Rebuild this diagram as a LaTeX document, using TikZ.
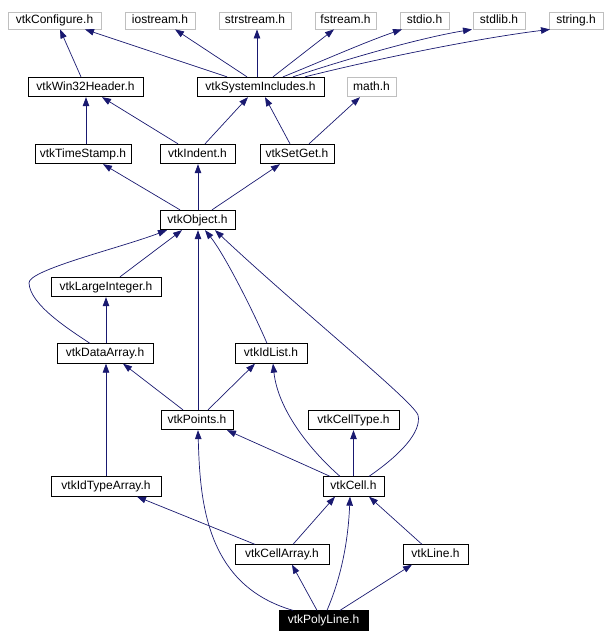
\documentclass[tikz,border=0pt]{standalone}
\usepackage{fontspec}
\setmainfont{Liberation Sans}
\usetikzlibrary{arrows.meta}
\definecolor{edgeblue}{RGB}{25,25,112}
\definecolor{boxgray}{RGB}{191,191,191}
\begin{document}
\begin{tikzpicture}[x=1pt,y=-1pt,
  hdr/.style={draw=black, line width=0.8pt, minimum height=19.5pt, inner sep=0pt,
    font=\fontsize{12}{14}\selectfont, text height=8.6pt, text depth=2.4pt},
  ext/.style={hdr, draw=boxgray, minimum height=17pt},
  cur/.style={hdr, fill=black, text=white},
  dep/.style={draw=edgeblue, line width=0.7pt, -{Triangle[length=9pt,width=6.5pt]}}]
\useasboundingbox (0,0) rectangle (605,642);
% top row
\node[ext, minimum width=93pt] (conf) at (54.5,20.5) {vtkConfigure.h};
\node[ext, minimum width=70pt] (iostream) at (160,20.5) {iostream.h};
\node[ext, minimum width=72pt] (strstream) at (255,20.5) {strstream.h};
\node[ext, minimum width=61pt] (fstream) at (345.5,20.5) {fstream.h};
\node[ext, minimum width=49pt] (stdio) at (424.5,20.5) {stdio.h};
\node[ext, minimum width=52pt] (stdlib) at (499,20.5) {stdlib.h};
\node[ext, minimum width=54pt] (string) at (576,20.5) {string.h};
% row 2
\node[hdr, minimum width=115pt] (win32) at (85.5,87) {vtkWin32Header.h};
\node[hdr, minimum width=127pt] (sysinc) at (260.5,87) {vtkSystemIncludes.h};
\node[ext, minimum width=49pt, minimum height=19.5pt] (math) at (371.5,87) {math.h};
% row 3
\node[hdr, minimum width=96pt] (timestamp) at (83,154) {vtkTimeStamp.h};
\node[hdr, minimum width=75pt] (indent) at (197.5,154) {vtkIndent.h};
\node[hdr, minimum width=74pt] (setget) at (297,154) {vtkSetGet.h};
% rows 4..
\node[hdr, minimum width=75pt] (object) at (197.5,220) {vtkObject.h};
\node[hdr, minimum width=110pt] (largeint) at (106,287) {vtkLargeInteger.h};
\node[hdr, minimum width=96pt] (dataarray) at (105,353.5) {vtkDataArray.h};
\node[hdr, minimum width=72pt] (idlist) at (271,353.5) {vtkIdList.h};
\node[hdr, minimum width=72pt] (points) at (197,420) {vtkPoints.h};
\node[hdr, minimum width=91pt] (celltype) at (353.5,420) {vtkCellType.h};
\node[hdr, minimum width=110pt] (idtype) at (106,486.5) {vtkIdTypeArray.h};
\node[hdr, minimum width=61pt] (cell) at (353.5,486.5) {vtkCell.h};
\node[hdr, minimum width=94pt] (cellarray) at (282,554.5) {vtkCellArray.h};
\node[hdr, minimum width=65pt] (line) at (435.5,554.5) {vtkLine.h};
\node[cur, minimum width=89pt] (polyline) at (323.5,620.5) {vtkPolyLine.h};
% edges to top row
\draw[dep] ([xshift=-4.5pt]win32.north) -- ([xshift=5.5pt]conf.south);
\draw[dep] ([xshift=-33.5pt]sysinc.north) -- ([xshift=30.5pt]conf.south);
\draw[dep] ([xshift=-13.5pt]sysinc.north) -- ([xshift=15pt]iostream.south);
\draw[dep] ([xshift=-3.5pt]sysinc.north) -- ([xshift=2pt]strstream.south);
\draw[dep] ([xshift=12.5pt]sysinc.north) -- ([xshift=-11.5pt]fstream.south);
\draw[dep] ([xshift=22.5pt]sysinc.north) .. controls (320,62) and (365,42) .. ([xshift=-22.5pt]stdio.south);
\draw[dep] ([xshift=32.5pt]sysinc.north) .. controls (350,58) and (420,38) .. ([xshift=-27pt]stdlib.south);
\draw[dep] ([xshift=44.5pt]sysinc.north) .. controls (380,58) and (480,38) .. ([xshift=-26pt]string.south);
% row 3 to row 2
\draw[dep] ([xshift=3pt]timestamp.north) -- ([xshift=0.5pt]win32.south);
\draw[dep] ([xshift=-19.5pt]indent.north) -- ([xshift=16.5pt]win32.south);
\draw[dep] ([xshift=7.5pt]indent.north) -- ([xshift=-12.5pt]sysinc.south);
\draw[dep] ([xshift=-7pt]setget.north) -- ([xshift=4.5pt]sysinc.south);
\draw[dep] ([xshift=12pt]setget.north) -- ([xshift=-11.5pt]math.south);
% object to row 3
\draw[dep] ([xshift=-17.5pt]object.north) -- ([xshift=20pt]timestamp.south);
\draw[dep] ([xshift=0.5pt]object.north) -- ([xshift=0.5pt]indent.south);
\draw[dep] ([xshift=14.5pt]object.north) -- ([xshift=-17pt]setget.south);
% to object
\draw[dep] ([xshift=14pt]largeint.north) -- ([xshift=-15.5pt]object.south);
\draw[dep] ([xshift=-15pt]dataarray.north) .. controls (70,330) and (30,305) .. (29,283)
  .. controls (28,270) and (120,248) .. ([xshift=-30.5pt]object.south);
\draw[dep] ([xshift=1pt]points.north) -- ([xshift=0.5pt]object.south);
\draw[dep] ([xshift=-4pt]idlist.north) .. controls (255,315) and (225,255) .. ([xshift=7.5pt]object.south);
\draw[dep] ([xshift=15.5pt]cell.north) .. controls (400,455) and (422,432) .. (418,415)
  .. controls (412,400) and (300,310) .. ([xshift=17.5pt]object.south);
% middle
\draw[dep] ([xshift=1pt]dataarray.north) -- (largeint.south);
\draw[dep] ([xshift=-14pt]points.north) -- ([xshift=18pt]dataarray.south);
\draw[dep] ([xshift=11pt]points.north) -- ([xshift=-16pt]idlist.south);
\draw[dep] (idtype.north) -- ([xshift=1pt]dataarray.south);
\draw[dep] ([xshift=-23.5pt]cell.north) .. controls (305,465) and (260,445) .. ([xshift=30pt]points.south);
\draw[dep] ([xshift=-13.5pt]cell.north) .. controls (310,450) and (278,410) .. ([xshift=2pt]idlist.south);
\draw[dep] (cell.north) -- (celltype.south);
% bottom
\draw[dep] ([xshift=-27pt]cellarray.north) -- ([xshift=31pt]idtype.south);
\draw[dep] ([xshift=11pt]cellarray.north) -- ([xshift=-18.5pt]cell.south);
\draw[dep] ([xshift=-13.5pt]line.north) -- ([xshift=15.5pt]cell.south);
\draw[dep] ([xshift=-30.5pt]polyline.north) .. controls (205,585) and (200,500) .. ([xshift=1pt]points.south);
\draw[dep] ([xshift=-6.5pt]polyline.north) -- ([xshift=10pt]cellarray.south);
\draw[dep] ([xshift=3.5pt]polyline.north) .. controls (340,580) and (348,545) .. ([xshift=-3.5pt]cell.south);
\draw[dep] ([xshift=16.5pt]polyline.north) -- ([xshift=-23.5pt]line.south);
\end{tikzpicture}
\end{document}
